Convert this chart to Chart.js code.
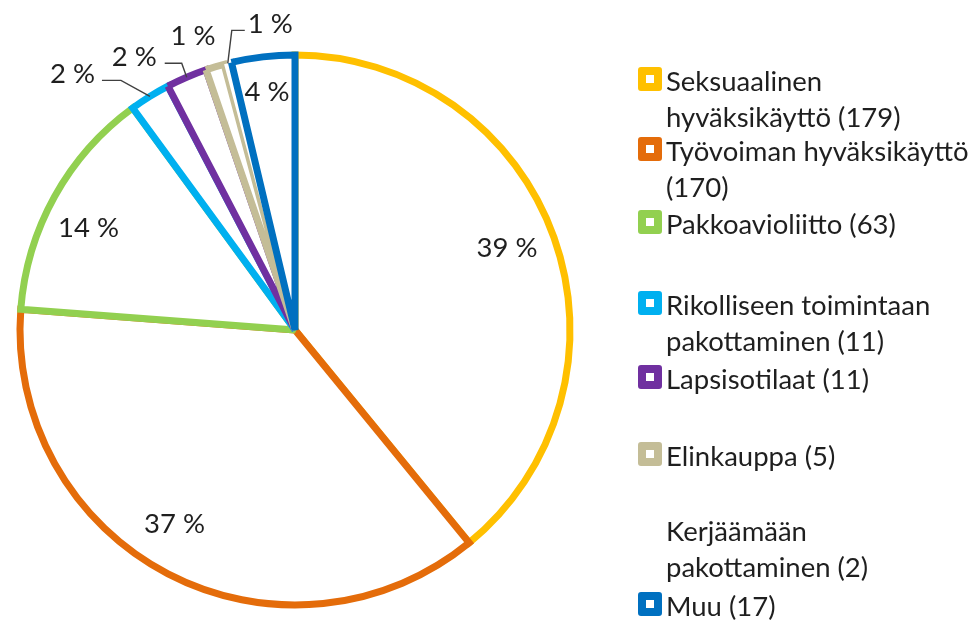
<!DOCTYPE html>
<html><head><meta charset="utf-8">
<script src="https://cdn.jsdelivr.net/npm/chart.js@4/dist/chart.umd.min.js"></script>
<style>
html,body{margin:0;padding:0;background:#fff;}
#wrap{position:relative;width:979px;height:626px;overflow:hidden;background:#fff;}
#c{position:absolute;left:0;top:0;}
#legend{position:absolute;left:0;top:0;width:979px;height:626px;font-family:Lato,"Liberation Sans",sans-serif;font-size:27.5px;line-height:36px;color:#1f1f1f;}
.item{position:absolute;left:666px;white-space:pre;}
.mk{position:absolute;left:-28px;top:4px;width:8px;height:8px;border:8px solid;border-radius:3px;background:#fff;}
</style></head>
<body>
<div id="wrap">
<canvas id="c" width="979" height="626"></canvas>
<div id="legend"></div>
</div>
<script>
// ---- data ----
const categories = ['Seksuaalinen hyväksikäyttö','Työvoiman hyväksikäyttö','Pakkoavioliitto','Rikolliseen toimintaan pakottaminen','Lapsisotilaat','Elinkauppa','Kerjäämään pakottaminen','Muu'];
const values = [179,170,63,11,11,5,2,17];
const percentLabels = ['39 %','37 %','14 %','2 %','2 %','1 %','1 %','4 %'];
const colors = ['#FFC000','#E46C0A','#92D050','#00B0F0','#7030A0','#C4BD97','rgba(0,0,0,0)','#0070C0'];

// ---- layout (styling only) ----
const legendTop = [63.4,133.4,206.4,287.4,361.4,438.4,513.4,588.4];
const legendBreak = [1,2,0,2,0,0,1,0];
const labelLayout = [
  {type:'in', k:0.83, dx:-3, dy:-6},
  {type:'in', k:0.83, dx:-15, dy:-9.5},
  {type:'in', k:0.83, dx:-7, dy:8},
  {type:'leader', ex:-29, ey:-16, h:-19, gap:7, ty:-7},
  {type:'leader', ex:-5, ey:-14, h:-17, gap:8, ty:-7},
  {type:'out', dx:-22, dy:-32},
  {type:'leader', ex:4, ey:-33, h:13, gap:3, ty:-7.5},
  {type:'in', k:0.875, dx:0, dy:0}
];
const FONT_PX = 27.5;
const TEXT_COLOR = '#1f1f1f';

const miterPlugin = {
  id:'miter',
  beforeDatasetsDraw(chart){ chart.ctx.miterLimit = 2; }
};

const labelPlugin = {
  id:'pieLabels',
  afterDatasetsDraw(chart){
    const ctx = chart.ctx;
    const meta = chart.getDatasetMeta(0);
    const capHalf = 0.358*FONT_PX;
    ctx.save();
    ctx.font = FONT_PX + 'px Lato, "Liberation Sans", sans-serif';
    ctx.fillStyle = TEXT_COLOR;
    ctx.strokeStyle = '#404040';
    ctx.lineWidth = 1.4;
    ctx.textBaseline = 'alphabetic';
    meta.data.forEach((arc,i)=>{
      const L = labelLayout[i];
      const p = arc.getProps(['x','y','startAngle','endAngle','outerRadius'], true);
      const mid = (p.startAngle+p.endAngle)/2;
      const pol = r => [p.x+Math.cos(mid)*r, p.y+Math.sin(mid)*r];
      if (L.type==='in'){
        const [x,y] = pol(L.k*p.outerRadius);
        ctx.textAlign='center';
        ctx.fillText(percentLabels[i], x+L.dx, y+L.dy+capHalf);
      } else if (L.type==='leader'){
        const [sx,sy] = pol(p.outerRadius);
        const ex = sx+L.ex, ey = sy+L.ey, hx = ex+L.h;
        ctx.beginPath(); ctx.moveTo(sx,sy); ctx.lineTo(ex,ey); ctx.lineTo(hx,ey); ctx.stroke();
        ctx.textAlign = L.h<0 ? 'right' : 'left';
        ctx.fillText(percentLabels[i], hx + (L.h<0 ? -L.gap : L.gap), ey + L.ty + capHalf);
      } else {
        const [sx,sy] = pol(p.outerRadius);
        ctx.textAlign='center';
        ctx.fillText(percentLabels[i], sx+L.dx, sy+L.dy+capHalf);
      }
    });
    ctx.restore();
  }
};

new Chart(document.getElementById('c'), {
  type:'pie',
  data:{
    labels:categories,
    datasets:[{
      data:values,
      backgroundColor:'#FFFFFF',
      borderColor:colors,
      borderWidth:7,
      borderJoinStyle:'miter',
      hoverOffset:0
    }]
  },
  options:{
    responsive:false,
    animation:false,
    events:[],
    devicePixelRatio:1,
    layout:{padding:{left:16.5, top:51.5, right:405.5, bottom:17.5}},
    plugins:{legend:{display:false}, tooltip:{enabled:false}}
  },
  plugins:[miterPlugin, labelPlugin]
});

// HTML legend built from the data
const legend = document.getElementById('legend');
categories.forEach((cat,i)=>{
  const words = (cat + ' (' + values[i] + ')').split(' ');
  const b = legendBreak[i];
  const txt = b>0 ? words.slice(0,b).join(' ') + '\n' + words.slice(b).join(' ') : words.join(' ');
  const item = document.createElement('div');
  item.className = 'item';
  item.style.top = legendTop[i] + 'px';
  const mk = document.createElement('span');
  mk.className = 'mk';
  mk.style.borderColor = colors[i];
  if (colors[i].indexOf('rgba(0,0,0,0)')===0) mk.style.background = 'transparent';
  item.appendChild(mk);
  item.appendChild(document.createTextNode(txt));
  legend.appendChild(item);
});
</script>
</body></html>
